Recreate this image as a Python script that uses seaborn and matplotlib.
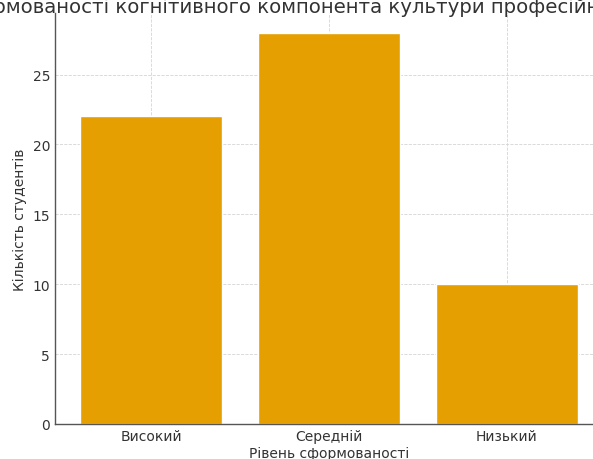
import matplotlib
matplotlib.use("Agg")
import matplotlib.pyplot as plt
import seaborn as sns
import pandas as pd

# Дані
levels = ['Високий', 'Середній', 'Низький']
students = [22, 28, 10]
bar_color = '#E69F00'

df = pd.DataFrame({'level': levels, 'count': students})

sns.set_style('whitegrid')
plt.rcParams['font.family'] = ['DejaVu Sans']
plt.rcParams['text.color'] = '#333333'
plt.rcParams['axes.labelcolor'] = '#333333'
plt.rcParams['xtick.color'] = '#333333'
plt.rcParams['ytick.color'] = '#333333'

fig = plt.figure(figsize=(5.93, 4.6), dpi=100)
ax = fig.add_axes([55 / 593, 35 / 460, 548 / 593, 411 / 460])

sns.barplot(data=df, x='level', y='count', color=bar_color, saturation=1,
            width=0.8, ax=ax, zorder=2)

ax.set_xlim(-0.54, 2.54)
ax.set_ylim(0, 29.4)
ax.set_yticks([0, 5, 10, 15, 20, 25])

ax.grid(True, linestyle='--', linewidth=0.6, color='#d4d4d4', zorder=0)
ax.set_axisbelow(True)
for side in ['top', 'right']:
    ax.spines[side].set_visible(False)
for side in ['left', 'bottom']:
    ax.spines[side].set_color('#555555')
    ax.spines[side].set_linewidth(1.0)
ax.tick_params(axis='both', direction='in', length=3.5, width=0.8,
               labelsize=10, colors='#333333')

# заголовок ширший за рисунок, тому обрізається по краях
ax.set_title('Рівень сформованості когнітивного компонента культури професійного спілкування',
             fontsize=14.2, pad=1, x=0.49)
ax.set_xlabel('Рівень сформованості', fontsize=10, labelpad=2)
ax.set_ylabel('Кількість студентів', fontsize=10)

fig.savefig('out.png', dpi=100)
